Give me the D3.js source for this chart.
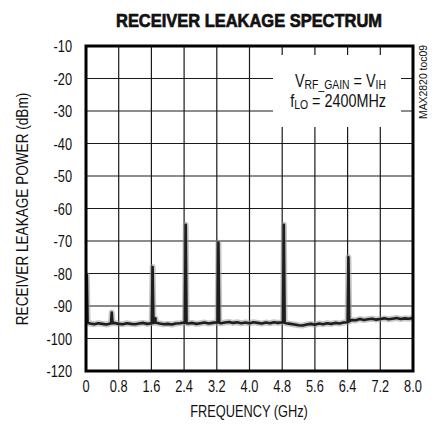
<!DOCTYPE html>
<html>
<head>
<meta charset="utf-8">
<script src="https://cdn.jsdelivr.net/npm/d3@7"></script>
<style>
  body { margin: 0; background: #fff; }
  text { font-family: "Liberation Sans", Arial, Helvetica, sans-serif; fill: #111; }
</style>
</head>
<body>
<div id="chart"></div>
<script>
// tick values and labels (the last label is printed as -120 on the original)
const xTicks = [0, 0.8, 1.6, 2.4, 3.2, 4.0, 4.8, 5.6, 6.4, 7.2, 8.0];
const xTickLabels = ["0", "0.8", "1.6", "2.4", "3.2", "4.0", "4.8", "5.6", "6.4", "7.2", "8.0"];
const yTicks = [-10, -20, -30, -40, -50, -60, -70, -80, -90, -100, -110];
const yTickLabels = ["-10", "-20", "-30", "-40", "-50", "-60", "-70", "-80", "-90", "-100", "-120"];

// noise floor read every 0.1 GHz from 0 to 8.0 GHz (dBm)
const floorStep = 0.1;
const floorDb = [
  -95.0, -95.4, -95.6, -95.3, -95.5, -95.7, -95.4, -95.2, -95.5, -95.6,
  -95.3, -95.5, -95.6, -95.4, -95.2, -95.5, -95.3, -95.1, -95.4, -95.6,
  -95.5, -95.7, -95.4, -95.3, -95.1, -95.4, -95.2, -95.5, -95.3, -95.1,
  -95.4, -95.2, -95.0, -95.3, -95.1, -94.9, -95.2, -95.0, -95.3, -95.1,
  -95.3, -95.0, -95.2, -95.4, -95.1, -95.3, -95.0, -95.2, -95.0, -95.3,
  -95.5, -95.7, -95.9, -96.0, -95.7, -95.5, -95.8, -95.4, -95.6, -95.3,
  -95.5, -95.2, -95.4, -95.1, -95.0, -94.3, -94.4, -94.0, -94.3, -94.1,
  -93.9, -94.2, -94.0, -93.8, -94.1, -93.9, -93.7, -94.0, -93.8, -93.9,
  -93.7
];

// leakage spurs: frequency (GHz) and peak level (dBm)
const spurFreq = [0.02, 0.63, 1.7, 1.63, 2.44, 3.24, 4.84, 6.42];
const spurPeak = [-80.5, -92, -93.8, -78, -65, -70.5, -65, -75];

const width = 434, height = 430;
const margin = { top: 46, right: 21, bottom: 59, left: 86 };
const narrow = 0.8; // horizontal squeeze to mimic a condensed face

const svg = d3.select("#chart").append("svg")
  .attr("width", width)
  .attr("height", height);

const x = d3.scaleLinear().domain([0, 8]).range([margin.left, width - margin.right]);
const y = d3.scaleLinear().domain([-110, -10]).range([height - margin.bottom, margin.top]);

// small helper for condensed text
function label(px, py, size, anchor, rot) {
  return svg.append("text")
    .attr("transform", `translate(${px},${py}) rotate(${rot || 0}) scale(${narrow},1)`)
    .attr("text-anchor", anchor)
    .style("font-size", size + "px");
}

// title
svg.append("text")
  .attr("x", 249).attr("y", 27)
  .attr("text-anchor", "middle")
  .style("font-size", "19px")
  .style("font-weight", "bold")
  .attr("stroke", "#111")
  .attr("stroke-width", 0.7)
  .attr("textLength", 266)
  .attr("lengthAdjust", "spacingAndGlyphs")
  .text("RECEIVER LEAKAGE SPECTRUM");

// gridlines
svg.append("g")
  .selectAll("line")
  .data(xTicks.slice(1, -1))
  .enter().append("line")
  .attr("x1", d => x(d)).attr("x2", d => x(d))
  .attr("y1", y(-10)).attr("y2", y(-110))
  .attr("stroke", "#1a1a1a").attr("stroke-width", 1.2);

svg.append("g")
  .selectAll("line")
  .data(yTicks.slice(1, -1))
  .enter().append("line")
  .attr("x1", x(0)).attr("x2", x(8))
  .attr("y1", d => y(d)).attr("y2", d => y(d))
  .attr("stroke", "#1a1a1a").attr("stroke-width", 1.2);

// legend background knocks out the grid
svg.append("rect")
  .attr("x", 273).attr("y", 55)
  .attr("width", 128).attr("height", 72)
  .attr("fill", "#fff");

const leg1 = label(386, 87, 18, "end");
leg1.append("tspan").text("V");
leg1.append("tspan").attr("dy", 2).style("font-size", "13px").text("RF_GAIN");
leg1.append("tspan").attr("dy", -2).text(" = V");
leg1.append("tspan").attr("dy", 2).style("font-size", "13px").text("IH");

const leg2 = label(386, 107, 18, "end");
leg2.append("tspan").text("f");
leg2.append("tspan").attr("dy", 2).style("font-size", "13px").text("LO");
leg2.append("tspan").attr("dy", -2).text(" = 2400MHz");

// build the trace from the floor plus the spurs
function floorAt(f) {
  const i = Math.min(Math.floor(f / floorStep), floorDb.length - 2);
  const t = f / floorStep - i;
  return floorDb[i] * (1 - t) + floorDb[i + 1] * t;
}
let pts = floorDb.map((v, i) => [i * floorStep, v]);
spurFreq.forEach((f, i) => {
  const w = 0.02;
  pts.push([Math.max(0, f - w), floorAt(Math.max(0, f - w))]);
  pts.push([f, spurPeak[i]]);
  pts.push([f + w, floorAt(f + w)]);
});
pts.sort((a, b) => a[0] - b[0]);

svg.append("clipPath").attr("id", "plot")
  .append("rect")
  .attr("x", x(0)).attr("y", y(-10))
  .attr("width", x(8) - x(0)).attr("height", y(-110) - y(-10));

const line = d3.line().x(d => x(d[0])).y(d => y(d[1]));

svg.append("path")
  .datum(pts)
  .attr("clip-path", "url(#plot)")
  .attr("d", line)
  .attr("fill", "none")
  .attr("stroke", "#999")
  .attr("stroke-opacity", 0.55)
  .attr("stroke-width", 6)
  .attr("stroke-linejoin", "round");

svg.append("path")
  .datum(pts)
  .attr("clip-path", "url(#plot)")
  .attr("d", line)
  .attr("fill", "none")
  .attr("stroke", "#1e1e1e")
  .attr("stroke-width", 2.6)
  .attr("stroke-linejoin", "round");

// frame
svg.append("rect")
  .attr("x", x(0)).attr("y", y(-10))
  .attr("width", x(8) - x(0)).attr("height", y(-110) - y(-10))
  .attr("fill", "none")
  .attr("stroke", "#000")
  .attr("stroke-width", 3);

// tick labels
yTicks.forEach((d, i) => {
  label(72, y(d) + 6, 16, "end").text(yTickLabels[i]);
});
xTicks.forEach((d, i) => {
  label(x(d), 392, 16, "middle").text(xTickLabels[i]);
});

// axis titles
label(249, 417, 16, "middle").text("FREQUENCY (GHz)");
label(28, 209, 17, "middle", -90).text("RECEIVER LEAKAGE POWER (dBm)");

svg.append("text")
  .attr("transform", "translate(427,82) rotate(-90)")
  .attr("text-anchor", "middle")
  .style("font-size", "10px")
  .attr("textLength", 74)
  .attr("lengthAdjust", "spacingAndGlyphs")
  .text("MAX2820 toc09");
</script>
</body>
</html>
